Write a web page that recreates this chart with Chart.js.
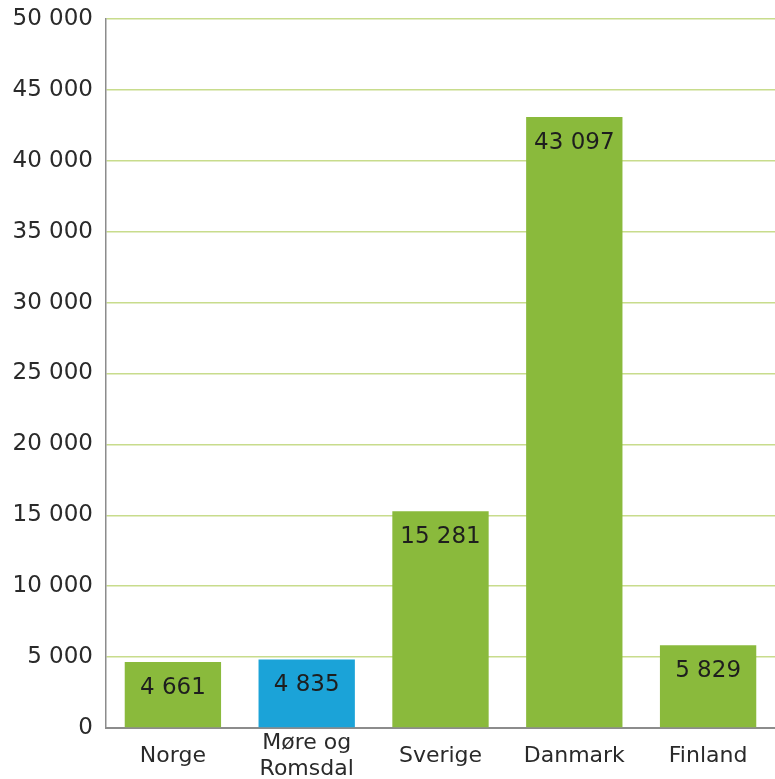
<!DOCTYPE html>
<html>
<head>
<meta charset="utf-8">
<script src="https://cdn.jsdelivr.net/npm/chart.js@4/dist/chart.umd.min.js"></script>
<style>
  html, body { margin: 0; padding: 0; background: #fff; }
  #wrap { width: 775px; height: 779px; }
</style>
</head>
<body>
<div id="wrap"><canvas id="c"></canvas></div>
<script>
// data
const regions = ['Norge', ['Møre og', 'Romsdal'], 'Sverige', 'Danmark', 'Finland'];
const values = [4661, 4835, 15281, 43097, 5829];
const barColors = ['#8aba3c', '#1ba3d8', '#8aba3c', '#8aba3c', '#8aba3c'];

const fmt = v => String(v).replace(/\B(?=(\d{3})+(?!\d))/g, ' ');

// value inside top of bar
const valueLabels = {
  id: 'valueLabels',
  afterDatasetsDraw(chart) {
    const ctx = chart.ctx;
    const meta = chart.getDatasetMeta(0);
    ctx.save();
    ctx.font = '23px "DejaVu Sans"';
    ctx.fillStyle = '#1e1e1e';
    ctx.textAlign = 'center';
    ctx.textBaseline = 'middle';
    meta.data.forEach((bar, i) => {
      ctx.fillText(fmt(values[i]), bar.x, bar.y + 26);
    });
    ctx.restore();
  }
};

new Chart(document.getElementById('c'), {
  type: 'bar',
  data: {
    labels: regions,
    datasets: [{
      data: values,
      backgroundColor: barColors,
      barPercentage: 0.72,
      categoryPercentage: 1
    }]
  },
  options: {
    responsive: true,
    maintainAspectRatio: false,
    animation: false,
    layout: { padding: { top: 19, right: 0, left: 0, bottom: 0 } },
    plugins: { legend: { display: false }, tooltip: { enabled: false } },
    scales: {
      x: {
        grid: { display: false, drawTicks: false },
        border: { color: '#8c8c8c', width: 2 },
        ticks: {
          color: '#2a2a2a',
          font: { family: 'DejaVu Sans', size: 22, lineHeight: 1.2 },
          padding: 15,
          crossAlign: 'center',
          maxRotation: 0
        },
        afterFit: s => { s.height = 51; }
      },
      y: {
        min: 0, max: 50000,
        grid: { color: '#c8dc8c', lineWidth: 1.5, drawTicks: false },
        border: { color: '#8c8c8c', width: 1.5 },
        ticks: {
          stepSize: 5000,
          color: '#2a2a2a',
          font: { family: 'DejaVu Sans', size: 23 },
          padding: 13,
          callback: v => fmt(v)
        },
        afterFit: s => { s.width = 106; s.paddingTop = 0; s.paddingBottom = 0; }
      }
    }
  },
  plugins: [valueLabels]
});
</script>
</body>
</html>
